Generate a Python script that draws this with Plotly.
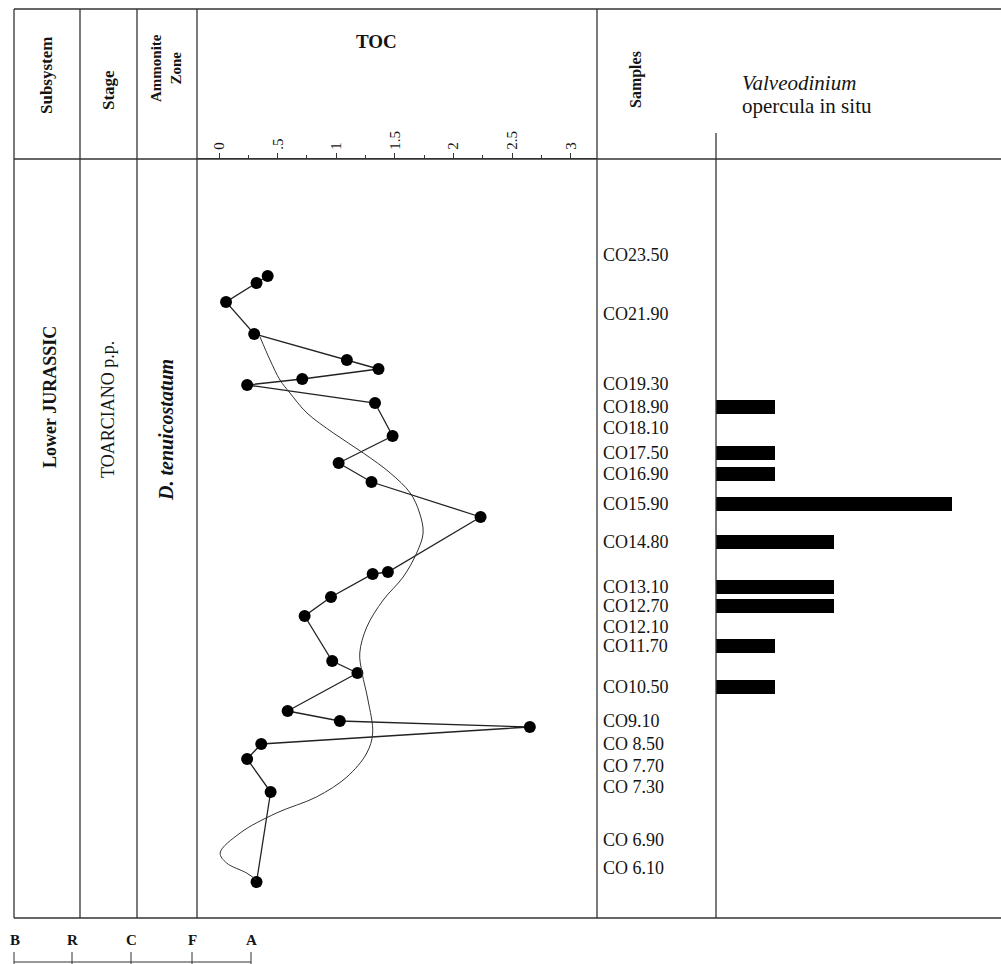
import plotly.graph_objects as go

# ---------------- data ----------------
# stratigraphic level: decimetres above the base of the logged column
toc_level = [64.2, 63.5, 61.6, 58.4, 55.8, 54.9, 53.9, 53.3, 51.5, 48.2, 45.5, 43.6, 40.1,
             34.6, 34.4, 32.1, 30.2, 25.7, 24.5, 20.7, 19.7, 19.1, 17.4, 15.9, 12.6, 3.6]
toc_value = [0.415, 0.32, 0.06, 0.30, 1.09, 1.36, 0.71, 0.24, 1.33, 1.48, 1.02, 1.30, 2.23,
             1.44, 1.31, 0.955, 0.73, 0.965, 1.18, 0.585, 1.03, 2.65, 0.36, 0.24, 0.44, 0.32]

trend_level = [58.1, 55.8, 53.8, 52.5, 50.5, 48.5, 46.5, 44.5, 42.5, 40.5, 38.5, 36.5, 34.1,
               31.8, 29.1, 26.5, 24.5, 21.8, 18.5, 16.5, 14.1, 12.1, 10.5, 8.5, 6.5, 5.5, 4.5, 3.8]
trend_value = [0.35, 0.435, 0.52, 0.605, 0.75, 0.975, 1.23, 1.46, 1.63, 1.71, 1.74, 1.685, 1.57,
               1.40, 1.26, 1.20, 1.22, 1.27, 1.31, 1.26, 1.09, 0.83, 0.49, 0.18, 0.01, 0.065, 0.235, 0.32]

sample_names = ["CO23.50", "CO21.90", "CO19.30", "CO18.90", "CO18.10", "CO17.50", "CO16.90",
                "CO15.90", "CO14.80", "CO13.10", "CO12.70", "CO12.10", "CO11.70", "CO10.50",
                "CO9.10", "CO 8.50", "CO 7.70", "CO 7.30", "CO 6.90", "CO 6.10"]
sample_level = [66.3, 60.4, 53.4, 51.1, 49.0, 46.5, 44.4, 41.4, 37.6, 33.1, 31.2, 29.1, 27.2,
                23.1, 19.7, 17.4, 15.2, 13.1, 7.8, 5.0]

opercula_samples = ["CO18.90", "CO17.50", "CO16.90", "CO15.90", "CO14.80", "CO13.10",
                    "CO12.70", "CO11.70", "CO10.50"]
opercula_count = [1, 1, 1, 4, 2, 2, 2, 1, 1]

toc_ticks = [0, 0.5, 1, 1.5, 2, 2.5, 3]
toc_ticktext = ["0", ".5", "1", "1.5", "2", "2.5", "3"]

bottom_letters = ["B", "R", "C", "F", "A"]

# ---------------- layout helpers ----------------
W, H = 1001, 964
def px(x):
    return x / W
def py(y):
    return 1 - y / H

SERIF = "Liberation Serif, Times New Roman, serif"
INK = "#141414"
LINE = "#333333"

level_of = dict(zip(sample_names, sample_level))
bar_level = [level_of[s] for s in opercula_samples]

fig = go.Figure()

# TOC zig-zag with points
fig.add_trace(go.Scatter(
    x=toc_value, y=toc_level, mode="lines+markers",
    line=dict(color="#222", width=1.3),
    marker=dict(color="black", size=12),
    xaxis="x", yaxis="y", showlegend=False, hoverinfo="x+y"))

# smoothed trend
fig.add_trace(go.Scatter(
    x=trend_value, y=trend_level, mode="lines",
    line=dict(color="#333", width=1, shape="spline", smoothing=1.0),
    xaxis="x", yaxis="y", showlegend=False, hoverinfo="skip"))

# opercula bars
fig.add_trace(go.Bar(
    x=opercula_count, y=bar_level, orientation="h", width=1.4,
    marker=dict(color="black", line=dict(width=0)),
    xaxis="x2", yaxis="y", showlegend=False))

y_top, y_bot = 159, 918
fig.update_layout(
    width=W, height=H,
    margin=dict(l=0, r=0, t=0, b=0),
    paper_bgcolor="white", plot_bgcolor="rgba(0,0,0,0)",
    font=dict(family=SERIF, color=INK),
    xaxis=dict(domain=[px(197), px(597)], range=[(197 - 219) / 117.3, (597 - 219) / 117.3],
               side="top", anchor="y", showgrid=False, zeroline=False,
               tickvals=toc_ticks, ticktext=toc_ticktext, tickangle=-90,
               ticks="outside", ticklen=5, tickcolor=LINE, tickwidth=1,
               minor=dict(dtick=0.25, tick0=0, ticks="outside", ticklen=3, tickcolor=LINE),
               tickfont=dict(family=SERIF, size=15, color=INK),
               showline=True, linecolor=LINE, linewidth=1.3),
    xaxis2=dict(domain=[px(716), px(1001)], range=[0, 285 / 59], anchor="y",
                visible=False),
    yaxis=dict(domain=[py(y_bot), py(y_top)], range=[0, (y_bot - y_top) / 10],
               visible=False),
    bargap=0,
)

shapes = []
def seg(x0, y0, x1, y1, w=1.3):
    shapes.append(dict(type="line", xref="paper", yref="paper",
                       x0=px(x0), y0=py(y0), x1=px(x1), y1=py(y1),
                       line=dict(color=LINE, width=w)))

seg(14, 9, 1001, 9)          # top
seg(14, 159, 1001, 159)      # header bottom
seg(14, 918, 1001, 918)      # bottom
for xv in [14, 80, 137, 197, 597]:
    seg(xv, 9, xv, 918)
seg(716, 133, 716, 918)      # opercula column
# bottom scale ticks
for xv in [14, 72, 131, 192, 251]:
    seg(xv, 952, xv, 964, 1)
seg(14, 962, 251, 962, 1)

fig.update_layout(shapes=shapes)

ann = []
def text(t, x, y, size, bold=False, italic=False, angle=0, xanchor="center"):
    s = t
    if italic:
        s = "<i>" + s + "</i>"
    if bold:
        s = "<b>" + s + "</b>"
    ann.append(dict(text=s, x=px(x), y=py(y), xref="paper", yref="paper",
                    showarrow=False, textangle=angle, xanchor=xanchor, yanchor="middle",
                    font=dict(family=SERIF, size=size, color=INK)))

# header
text("Subsystem", 47, 76, 17, bold=True, angle=-90)
text("Stage", 108, 90, 17, bold=True, angle=-90)
text("Ammonite<br>Zone", 166, 68, 15, bold=True, angle=-90)
text("TOC", 376, 42, 19, bold=True)
text("Samples", 636, 80, 16, bold=True, angle=-90)
text("Valveodinium", 740, 83, 21, italic=True, xanchor="left")
text("opercula in situ", 740, 106, 21, xanchor="left")

# body column labels
text("Lower JURASSIC", 50, 397, 18, bold=True, angle=-90)
text("TOARCIANO p.p.", 108, 410, 18, bold=False, angle=-90)
text("D. tenuicostatum", 166, 430, 20, bold=True, italic=True, angle=-90)

# bottom letters
for lt, xv in zip(bottom_letters, [15, 72, 131, 192, 251]):
    text(lt, xv, 940, 15, bold=True)

fig.update_layout(annotations=ann)

# sample names, placed on the level axis
for name, lv in zip(sample_names, sample_level):
    fig.add_annotation(text=name, x=px(601), y=lv, xref="paper", yref="y",
                       showarrow=False, xanchor="left", yanchor="middle",
                       font=dict(family=SERIF, size=18, color=INK))

fig.write_html("out.html", config={"displayModeBar": False},
               post_script="document.body.style.margin='0';")
